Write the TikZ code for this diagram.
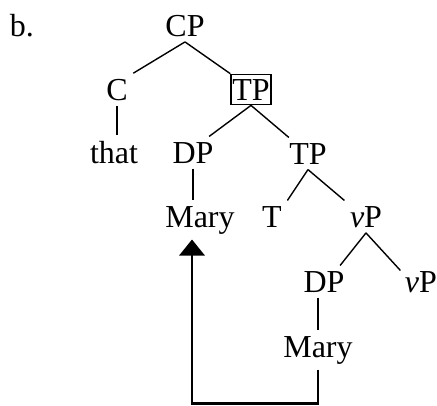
\documentclass[tikz,border=0pt]{standalone}
\usepackage{fontspec}
\setmainfont{Liberation Serif}
\usetikzlibrary{arrows.meta}

\begin{document}
\begin{tikzpicture}[x=0.75pt, y=-0.75pt,
  cat/.style={font=\fontsize{24}{28}\selectfont, inner sep=4pt, anchor=base},
  branch/.style={line width=1.05pt},
  movearrow/.style={line width=1.6pt, -{Triangle[width=19pt, length=12pt]}}]
  \useasboundingbox (0,0) rectangle (437,405);

  % example label
  \node[cat] (lbl) at (22,36) {b.};

  % CP and its daughters
  \node[cat] (cp) at (185,36) {CP};
  \node[cat] (c) at (117,100) {C};
  \node[cat, draw, line width=1.05pt, inner xsep=1pt, inner ysep=3.5pt] (tpbox) at (251,100) {TP};
  \node[cat] (that) at (114,163) {that};
  \node[cat] (dpa) at (193,163) {DP};
  \node[cat] (tpa) at (308,164) {TP};
  \node[cat] (marya) at (200,227) {Mary};

  % lower TP and vP
  \node[cat] (t) at (272,227) {T};
  \node[cat] (vpa) at (366,227) {\textit{v}P};
  \node[cat] (dpb) at (324,292) {DP};
  \node[cat] (vpb) at (421,292) {\textit{v}P};
  \node[cat] (maryb) at (318,357) {Mary};

  % branches
  \draw[branch] (cp.south) -- (c.north east);
  \draw[branch] (cp.south) -- (tpbox.north west);
  \draw[branch] (c.south) -- (c.south |- that.north);
  \draw[branch] (tpbox.south) -- (dpa.45);
  \draw[branch] (tpbox.south) -- (tpa.140);
  \draw[branch] (dpa.south) -- (dpa.south |- marya.north);
  \draw[branch] (tpa.south) -- (t.north east);
  \draw[branch] (tpa.south) -- (vpa.north west);
  \draw[branch] (vpa.south) -- (dpb.45);
  \draw[branch] (vpa.south) -- ([shift={(1,5)}]vpb.north west);
  \draw[branch] (maryb.north |- dpb.south) -- (maryb.north);

  % movement of Mary
  \draw[movearrow] (maryb.south) -- ++(0,34) -| ([xshift=-6pt]marya.south);
\end{tikzpicture}
\end{document}
